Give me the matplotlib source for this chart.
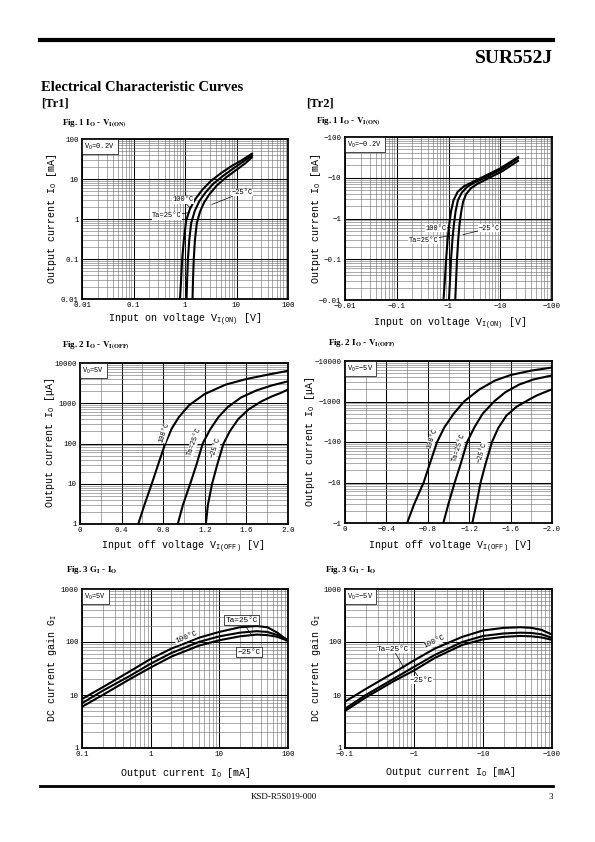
import numpy as np
import matplotlib.pyplot as plt
from matplotlib.lines import Line2D
from matplotlib.ticker import LogLocator, NullFormatter, MultipleLocator

W, H = 595, 842
MONO = ["Liberation Mono", "DejaVu Sans Mono"]
SERIF = ["Liberation Serif", "DejaVu Serif"]

plt.rcParams["font.family"] = MONO
plt.rcParams["mathtext.fontset"] = "custom"
plt.rcParams["mathtext.rm"] = "Liberation Mono"
plt.rcParams["mathtext.it"] = "Liberation Mono"

TEMPS = ["100°C", "25°C", "−25°C"]

# ---- Fig.1 Io - VI(ON), Tr1 (V, mA)
f1a_v = [[0.80, 0.84, 0.88, 0.95, 1.05, 1.25, 1.6, 2.2, 3.2, 5, 8, 13, 20],
         [1.07, 1.10, 1.14, 1.21, 1.32, 1.55, 1.9, 2.5, 3.5, 5.5, 9, 14, 20],
         [1.40, 1.43, 1.48, 1.56, 1.70, 1.95, 2.35, 3.0, 4.2, 6.3, 10, 15, 20]]
f1a_i = [[0.01, 0.03, 0.1, 0.3, 0.9, 1.8, 3.2, 5.5, 9, 14, 21, 30, 43],
         [0.01, 0.03, 0.1, 0.3, 0.8, 1.6, 2.8, 4.6, 7.5, 12, 19, 28, 39],
         [0.01, 0.03, 0.1, 0.3, 0.8, 1.5, 2.6, 4.2, 7, 11, 17, 25, 35]]
# ---- Fig.1 Tr2
f1b_v = [[0.80, 0.85, 0.90, 0.96, 1.03, 1.12, 1.25, 1.5, 2.0, 3.0, 5, 10, 22],
         [1.02, 1.07, 1.12, 1.19, 1.27, 1.37, 1.52, 1.8, 2.3, 3.3, 5.5, 10.5, 22],
         [1.35, 1.40, 1.46, 1.54, 1.63, 1.75, 1.92, 2.2, 2.7, 3.7, 6, 11, 22]]
f1b_i = [[0.01, 0.03, 0.1, 0.3, 0.7, 1.5, 2.8, 4.5, 6.2, 8, 11, 17, 32],
         [0.01, 0.03, 0.1, 0.3, 0.7, 1.5, 2.8, 4.3, 6, 7.8, 10.5, 16, 30],
         [0.01, 0.03, 0.1, 0.3, 0.7, 1.4, 2.6, 4.0, 5.5, 7.2, 9.8, 14.5, 26]]
# ---- Fig.2 Io - VI(OFF), Tr1 (V, uA)
f2a_v = [[0.56, 0.62, 0.69, 0.76, 0.82, 0.88, 0.95, 1.05, 1.2, 1.4, 1.6, 1.8, 2.0],
         [0.94, 0.99, 1.06, 1.12, 1.18, 1.25, 1.33, 1.42, 1.55, 1.7, 1.85, 2.0],
         [1.21, 1.23, 1.27, 1.32, 1.38, 1.44, 1.52, 1.62, 1.74, 1.85, 1.93, 2.0]]
f2a_i = [[1, 3, 10, 35, 100, 230, 450, 900, 1700, 2900, 4000, 5100, 6400],
         [1, 3, 10, 30, 100, 220, 450, 800, 1400, 2100, 2800, 3500],
         [1, 3, 10, 30, 100, 200, 400, 700, 1100, 1500, 1800, 2200]]
# ---- Fig.2 Tr2
f2b_v = [[0.60, 0.67, 0.76, 0.83, 0.89, 0.96, 1.05, 1.15, 1.3, 1.45, 1.6, 1.8, 2.0],
         [0.95, 1.00, 1.06, 1.12, 1.18, 1.25, 1.33, 1.44, 1.55, 1.68, 1.82, 2.0],
         [1.23, 1.27, 1.31, 1.36, 1.42, 1.48, 1.56, 1.66, 1.76, 1.85, 1.93, 2.0]]
f2b_i = [[1, 3, 10, 35, 100, 230, 500, 1000, 2000, 3300, 4500, 5800, 6900],
         [1, 3, 10, 30, 100, 230, 500, 1000, 1700, 2600, 3500, 4400],
         [1, 3, 10, 30, 100, 220, 450, 750, 1050, 1400, 1700, 2000]]
# ---- Fig.3 GI - Io (mA, gain)
f3_io = [0.1, 0.2, 0.5, 1, 2, 5, 10, 20, 35, 50, 70, 100]
f3a_g = [[8.4, 14, 28, 48, 75, 120, 155, 190, 200, 190, 150, 105],
         [7.0, 12, 23, 39, 62, 100, 128, 150, 160, 155, 135, 110],
         [6.0, 10, 20, 33, 53, 85, 108, 128, 138, 135, 125, 105]]
f3b_g = [[7.5, 13, 26, 45, 75, 125, 165, 185, 190, 185, 170, 138],
         [5.5, 10, 20, 34, 57, 100, 130, 145, 150, 148, 140, 120],
         [5.0, 9, 18, 29, 50, 88, 112, 125, 130, 128, 122, 110]]

fig = plt.figure(figsize=(W / 100, H / 100), dpi=100)


def rect(x0, x1, y0, y1):
    return [x0 / W, 1 - y1 / H, (x1 - x0) / W, (y1 - y0) / H]


def ftext(x, y, s, **kw):
    fig.text(x / W, 1 - y / H, s, **kw)


def hline(x0, x1, y, lw):
    fig.add_artist(Line2D([x0 / W, x1 / W], [1 - y / H, 1 - y / H],
                          transform=fig.transFigure, color="black", lw=lw))


def base_axes(r, logx, xt, xl, yt, yl):
    ax = fig.add_axes(r)
    ax.set_yscale("log")
    ax.yaxis.set_minor_locator(LogLocator(10, subs=np.arange(2, 10), numticks=100))
    ax.yaxis.set_minor_formatter(NullFormatter())
    if logx:
        ax.set_xscale("log")
        ax.xaxis.set_minor_locator(LogLocator(10, subs=np.arange(2, 10), numticks=100))
        ax.xaxis.set_minor_formatter(NullFormatter())
    else:
        ax.xaxis.set_minor_locator(MultipleLocator(0.2))
    ax.set_xticks(xt, xl)
    ax.set_yticks(yt, yl)
    ax.set_xlim(xt[0], xt[-1])
    ax.set_ylim(yt[0], yt[-1])
    ax.grid(which="major", color="black", lw=0.75)
    ax.grid(which="minor", color="#6a6a6a", lw=0.4)
    ax.tick_params(which="both", length=0, labelsize=5.4, pad=2.5)
    for s in ax.spines.values():
        s.set_linewidth(1.3)
    return ax


def vo_box(ax, s):
    ax.text(0.012, 0.985, s, transform=ax.transAxes, fontsize=5, ha="left", va="top",
            bbox=dict(boxstyle="square,pad=0.4", fc="white", ec="black", lw=0.5), zorder=5)


def ann(ax, s, xy, xyt, ha, box=False, fs=5):
    bb = dict(boxstyle="square,pad=0.2", fc="white", ec="black", lw=0.5) if box else \
        dict(boxstyle="square,pad=0.05", fc="white", ec="none")
    ax.annotate(s, xy=xy, xytext=xyt, ha=ha, va="center", fontsize=fs, bbox=bb, zorder=6,
                arrowprops=dict(arrowstyle="-", lw=0.5, color="black", shrinkA=0, shrinkB=0))


def rtext(ax, s, x, y, rot, fs=5):
    ax.text(x, y, s, rotation=rot, ha="center", va="center", fontsize=fs, zorder=6,
            bbox=dict(boxstyle="square,pad=0.05", fc="white", ec="none"))


LW = 1.5

# ---------- page header
hline(40, 553, 40, 3.0)
ftext(553, 63, "SUR552J", ha="right", va="baseline", fontsize=14, fontweight="bold", family=SERIF)
ftext(41, 91, "Electrical Characteristic Curves", ha="left", va="baseline", fontsize=10.5,
      fontweight="bold", family=SERIF)
ftext(41, 106, "[Tr1]", ha="left", va="baseline", fontsize=9, fontweight="bold", family=SERIF)
ftext(306, 106, "[Tr2]", ha="left", va="baseline", fontsize=9, fontweight="bold", family=SERIF)


def title(x, y, s):
    fig.text(x / W, 1 - y / H, s, ha="left", va="baseline", fontsize=6.5, fontweight="bold",
             family=SERIF, math_fontfamily="stix")


title(62, 125, r"Fig. 1 $\mathbf{I_O}$ - $\mathbf{V_{I(ON)}}$")
title(316, 123, r"Fig. 1 $\mathbf{I_O}$ - $\mathbf{V_{I(ON)}}$")
title(62, 347, r"Fig. 2 $\mathbf{I_O}$ - $\mathbf{V_{I(OFF)}}$")
title(328, 345, r"Fig. 2 $\mathbf{I_O}$ - $\mathbf{V_{I(OFF)}}$")
title(66, 572, r"Fig. 3 $\mathbf{G_I}$ - $\mathbf{I_O}$")
title(325, 572, r"Fig. 3 $\mathbf{G_I}$ - $\mathbf{I_O}$")

LBL = 7.2

# ---------- Fig 1 Tr1
dec4 = [0.01, 0.1, 1, 10, 100]
ax = base_axes(rect(82, 288, 139, 299), True, dec4, ["0.01", "0.1", "1", "10", "100"],
               dec4, ["0.01", "0.1", "1", "10", "100"])
for v, i in zip(f1a_v, f1a_i):
    ax.plot(v, i, color="black", lw=LW)
vo_box(ax, r"V$_\mathrm{O}$=0.2V")
ann(ax, "100°C", (1.25, 1.9), (1.45, 3.0), "right")
ann(ax, "Ta=25°C", (1.22, 1.45), (0.86, 1.2), "right")
ann(ax, "−25°C", (3.3, 2.3), (8.0, 4.6), "left")
ftext(52, 219, r"Output current I$_\mathrm{O}$ [mA]", rotation=90, ha="center", va="center", fontsize=LBL)
ftext(185, 320, r"Input on voltage V$_\mathrm{I(ON)}$ [V]", ha="center", va="center", fontsize=LBL)

# ---------- Fig 1 Tr2
ax = base_axes(rect(345, 552, 137, 300), True, dec4, ["−0.01", "−0.1", "−1", "−10", "−100"],
               dec4, ["−0.01", "−0.1", "−1", "−10", "−100"])
for v, i in zip(f1b_v, f1b_i):
    ax.plot(v, i, color="black", lw=LW)
vo_box(ax, r"V$_\mathrm{O}$=−0.2V")
ann(ax, "100°C", (1.1, 0.6), (0.93, 0.58), "right")
ann(ax, "Ta=25°C", (1.29, 0.40), (0.64, 0.29), "right")
ann(ax, "−25°C", (1.9, 0.40), (3.8, 0.58), "left")
ftext(316, 219, r"Output current I$_\mathrm{O}$ [mA]", rotation=90, ha="center", va="center", fontsize=LBL)
ftext(450, 324, r"Input on voltage V$_\mathrm{I(ON)}$ [V]", ha="center", va="center", fontsize=LBL)

# ---------- Fig 2 Tr1
vx = [0, 0.4, 0.8, 1.2, 1.6, 2.0]
iy = [1, 10, 100, 1000, 10000]
ax = base_axes(rect(80, 288, 363, 524), False, vx, ["0", "0.4", "0.8", "1.2", "1.6", "2.0"],
               iy, ["1", "10", "100", "1000", "10000"])
for v, i in zip(f2a_v, f2a_i):
    ax.plot(v, i, color="black", lw=LW)
vo_box(ax, r"V$_\mathrm{O}$=5V")
rtext(ax, "100°C", 0.815, 190, 72)
rtext(ax, "Ta=25°C", 1.10, 110, 70)
rtext(ax, "−25°C", 1.30, 80, 72)
ftext(50, 443, r"Output current I$_\mathrm{O}$ [μA]", rotation=90, ha="center", va="center", fontsize=LBL)
ftext(183, 547, r"Input off voltage V$_\mathrm{I(OFF)}$ [V]", ha="center", va="center", fontsize=LBL)

# ---------- Fig 2 Tr2
ax = base_axes(rect(345, 552, 361, 523), False, vx, ["0", "−0.4", "−0.8", "−1.2", "−1.6", "−2.0"],
               iy, ["−1", "−10", "−100", "−1000", "−10000"])
for v, i in zip(f2b_v, f2b_i):
    ax.plot(v, i, color="black", lw=LW)
vo_box(ax, r"V$_\mathrm{O}$=−5V")
rtext(ax, "100°C", 0.845, 125, 72)
rtext(ax, "Ta=25°C", 1.10, 75, 72)
rtext(ax, "−25°C", 1.325, 56, 74)
ftext(310, 442, r"Output current I$_\mathrm{O}$ [μA]", rotation=90, ha="center", va="center", fontsize=LBL)
ftext(450, 547, r"Input off voltage V$_\mathrm{I(OFF)}$ [V]", ha="center", va="center", fontsize=LBL)

# ---------- Fig 3 Tr1
ix = [0.1, 1, 10, 100]
gy = [1, 10, 100, 1000]
ax = base_axes(rect(82, 288, 589, 748), True, ix, ["0.1", "1", "10", "100"],
               gy, ["1", "10", "100", "1000"])
for g in f3a_g:
    ax.plot(f3_io, g, color="black", lw=LW)
vo_box(ax, r"V$_\mathrm{O}$=5V")
ann(ax, "Ta=25°C", (29, 140), (21, 256), "center", box=True, fs=5.6)
rtext(ax, "100°C", 3.3, 122, 22, fs=5.6)
ax.text(27, 64, "−25°C", ha="center", va="center", fontsize=5.6, zorder=6,
        bbox=dict(boxstyle="square,pad=0.2", fc="white", ec="black", lw=0.5))
ftext(52, 668, r"DC current gain G$_\mathrm{I}$", rotation=90, ha="center", va="center", fontsize=LBL)
ftext(185, 773, r"Output current I$_\mathrm{O}$ [mA]", ha="center", va="center", fontsize=LBL)

# ---------- Fig 3 Tr2
ax = base_axes(rect(345, 552, 589, 748), True, ix, ["−0.1", "−1", "−10", "−100"],
               gy, ["1", "10", "100", "1000"])
for g in f3b_g:
    ax.plot(f3_io, g, color="black", lw=LW)
vo_box(ax, r"V$_\mathrm{O}$=−5V")
ann(ax, "Ta=25°C", (0.72, 32), (0.50, 73), "center", fs=5.6)
rtext(ax, "100°C", 2.0, 100, 25, fs=5.6)
ann(ax, "−25°C", (0.98, 30), (1.25, 19), "center", fs=5.6)
ftext(316, 668, r"DC current gain G$_\mathrm{I}$", rotation=90, ha="center", va="center", fontsize=LBL)
ftext(450, 772, r"Output current I$_\mathrm{O}$ [mA]", ha="center", va="center", fontsize=LBL)

# ---------- footer
hline(40, 553, 786, 2.0)
ftext(284, 799, "KSD-R5S019-000", ha="center", va="baseline", fontsize=6.5, family=SERIF)
ftext(553, 799, "3", ha="right", va="baseline", fontsize=6.5, family=SERIF)

fig.savefig("out.png", dpi=100)
